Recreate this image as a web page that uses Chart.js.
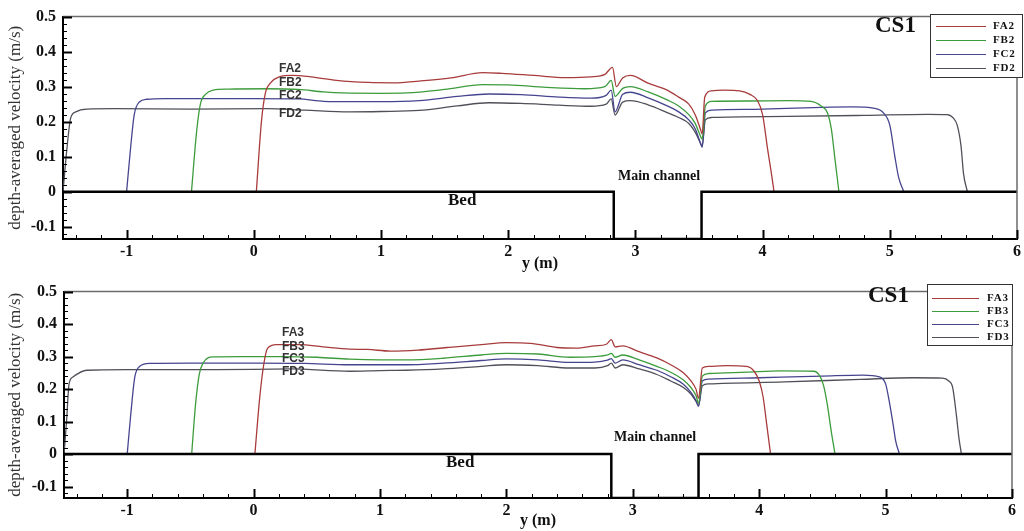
<!DOCTYPE html>
<html>
<head>
<meta charset="utf-8">
<title>CS1 depth-averaged velocity</title>
<script src="https://cdn.jsdelivr.net/npm/chart.js@4.4.1/dist/chart.umd.min.js"></script>
<style>
  html, body { margin: 0; padding: 0; background: #fff; }
  #wrap { position: relative; width: 1024px; height: 531px; overflow: hidden; }
  canvas { position: absolute; left: 0; }
  #chart-top { top: 0; }
  #chart-bottom { top: 275px; }
  .note { position: absolute; line-height: 1; white-space: nowrap; color: #111; }
  .serif { font-family: "Liberation Serif", "Times New Roman", serif; font-weight: bold; }
  .cs { font-size: 23px; }
  .main { font-size: 14px; }
  .bed { font-size: 17px; }
  .tag { font-family: "Liberation Sans", Arial, sans-serif; font-weight: bold; font-size: 12px; color: #333; }
  .legend { position: absolute; border: 1px solid #333; background: #fff; }
  .legend .row { position: absolute; left: 0; right: 0; height: 0; }
  .legend .swatch { position: absolute; height: 1px; top: 0; }
  .legend .lbl { position: absolute; top: -6px; font-family: "Liberation Serif", serif; font-weight: bold;
                 font-size: 11px; letter-spacing: 0.8px; line-height: 1; color: #111; }
</style>
</head>
<body>
<div id="wrap">
  <canvas id="chart-top" width="1024" height="275"></canvas>
  <canvas id="chart-bottom" width="1024" height="256"></canvas>

  <div class="note serif cs" style="left:875px; top:13px;">CS1</div>
  <div class="note serif main" style="left:618px; top:169px;">Main channel</div>
  <div class="note serif bed" style="left:448px; top:191px;">Bed</div>
  <div class="note tag" style="left:279px; top:62px;">FA2</div>
  <div class="note tag" style="left:279px; top:76px;">FB2</div>
  <div class="note tag" style="left:279px; top:89px;">FC2</div>
  <div class="note tag" style="left:279px; top:107px;">FD2</div>

  <div class="note serif cs" style="left:868px; top:283px;">CS1</div>
  <div class="note serif main" style="left:614px; top:430px;">Main channel</div>
  <div class="note serif bed" style="left:446px; top:453px;">Bed</div>
  <div class="note tag" style="left:282px; top:326px;">FA3</div>
  <div class="note tag" style="left:282px; top:340px;">FB3</div>
  <div class="note tag" style="left:282px; top:352px;">FC3</div>
  <div class="note tag" style="left:282px; top:365px;">FD3</div>

  <div id="legend-top" class="legend" style="left:930px; top:14px; width:91px; height:62px;"></div>
  <div id="legend-bottom" class="legend" style="left:927px; top:284px; width:84px; height:60px;"></div>
</div>

<script>
// ---- data ----
const seriesColors = ['#a83c3c', '#3c9c3c', '#45458f', '#50505a'];
const namesTop = ['FA2', 'FB2', 'FC2', 'FD2'];
const namesBottom = ['FA3', 'FB3', 'FC3', 'FD3'];

const xTicks = [-1, 0, 1, 2, 3, 4, 5, 6];
const yTicks = [-0.1, 0, 0.1, 0.2, 0.3, 0.4, 0.5];

// bed / main channel outline
const bedX = [-1.5, 2.83, 2.83, 3.52, 3.52, 6];
const bedY = [0, 0, -0.135, -0.135, 0, 0];

// top panel
const fa2X = [0.02, 0.06, 0.09, 0.13, 0.2, 0.3, 0.45, 0.65, 0.9, 1.1, 1.3, 1.55, 1.8, 1.95, 2.2, 2.45, 2.65, 2.76, 2.82, 2.85, 2.9, 2.96, 3.1, 3.25, 3.34, 3.42, 3.47, 3.51, 3.525, 3.545, 3.6, 3.7, 3.82, 3.9, 3.96, 4.0, 4.04, 4.07, 4.09];
const fa2Y = [0, 0.2, 0.28, 0.31, 0.328, 0.332, 0.328, 0.318, 0.312, 0.311, 0.316, 0.325, 0.34, 0.338, 0.332, 0.326, 0.328, 0.335, 0.355, 0.3, 0.325, 0.332, 0.31, 0.29, 0.27, 0.25, 0.22, 0.18, 0.165, 0.27, 0.288, 0.29, 0.288, 0.278, 0.26, 0.22, 0.12, 0.05, 0];
const fb2X = [-0.49, -0.45, -0.42, -0.38, -0.32, -0.2, 0.1, 0.35, 0.55, 0.7, 1.0, 1.2, 1.5, 1.8, 2.0, 2.3, 2.6, 2.76, 2.81, 2.84, 2.9, 2.96, 3.1, 3.25, 3.34, 3.42, 3.47, 3.51, 3.525, 3.55, 3.6, 3.9, 4.2, 4.38, 4.46, 4.51, 4.54, 4.57, 4.6];
const fb2Y = [0, 0.17, 0.25, 0.278, 0.29, 0.293, 0.294, 0.292, 0.285, 0.282, 0.281, 0.282, 0.292, 0.306, 0.305, 0.298, 0.294, 0.3, 0.318, 0.272, 0.295, 0.3, 0.285, 0.262, 0.245, 0.22, 0.195, 0.16, 0.15, 0.245, 0.258, 0.259, 0.26, 0.258, 0.245, 0.225, 0.18, 0.09, 0];
const fc2X = [-1.0, -0.97, -0.94, -0.9, -0.84, -0.7, 0, 0.35, 0.55, 0.75, 1.0, 1.3, 1.6, 1.85, 2.1, 2.4, 2.65, 2.77, 2.81, 2.84, 2.9, 2.96, 3.1, 3.25, 3.34, 3.42, 3.47, 3.51, 3.525, 3.55, 3.6, 4.0, 4.4, 4.7, 4.88, 4.95, 5.0, 5.04, 5.07, 5.11];
const fc2Y = [0, 0.12, 0.22, 0.256, 0.264, 0.266, 0.266, 0.265, 0.258, 0.257, 0.257, 0.26, 0.272, 0.279, 0.277, 0.27, 0.267, 0.275, 0.29, 0.228, 0.278, 0.284, 0.268, 0.245, 0.228, 0.205, 0.18, 0.14, 0.127, 0.225, 0.233, 0.236, 0.24, 0.242, 0.238, 0.225, 0.19, 0.1, 0.04, 0];
const fd2X = [-1.5, -1.47, -1.44, -1.4, -1.31, -1.1, -0.5, 0.1, 0.4, 0.75, 1.0, 1.3, 1.6, 1.85, 2.1, 2.4, 2.65, 2.77, 2.81, 2.84, 2.9, 2.96, 3.1, 3.25, 3.34, 3.42, 3.47, 3.51, 3.525, 3.55, 3.6, 4.2, 4.8, 5.3, 5.45, 5.5, 5.53, 5.56, 5.58, 5.61];
const fd2Y = [0, 0.12, 0.21, 0.228, 0.236, 0.237, 0.236, 0.237, 0.233, 0.228, 0.229, 0.232, 0.245, 0.254, 0.252, 0.247, 0.244, 0.25, 0.265, 0.219, 0.256, 0.26, 0.248, 0.226, 0.212, 0.195, 0.17, 0.14, 0.13, 0.205, 0.212, 0.215, 0.218, 0.221, 0.22, 0.21, 0.19, 0.13, 0.05, 0];

// bottom panel
const fa3X = [0.01, 0.05, 0.08, 0.11, 0.18, 0.36, 0.55, 0.76, 0.9, 1.08, 1.3, 1.53, 1.8, 2.0, 2.19, 2.4, 2.55, 2.7, 2.79, 2.83, 2.86, 2.92, 3.05, 3.19, 3.3, 3.4, 3.46, 3.5, 3.52, 3.55, 3.6, 3.75, 3.9, 3.96, 4.0, 4.03, 4.06, 4.09];
const fa3Y = [0, 0.18, 0.275, 0.325, 0.337, 0.337, 0.33, 0.323, 0.322, 0.317, 0.32, 0.328, 0.337, 0.343, 0.341, 0.328, 0.326, 0.333, 0.338, 0.352, 0.33, 0.333, 0.315, 0.296, 0.275, 0.25, 0.225, 0.2, 0.172, 0.265, 0.27, 0.272, 0.27, 0.255, 0.225, 0.178, 0.09, 0];
const fb3X = [-0.49, -0.46, -0.43, -0.4, -0.32, -0.1, 0.2, 0.5, 0.76, 1.0, 1.21, 1.5, 1.8, 2.0, 2.25, 2.5, 2.7, 2.8, 2.83, 2.86, 2.92, 3.05, 3.19, 3.3, 3.4, 3.46, 3.5, 3.52, 3.55, 3.6, 3.9, 4.17, 4.43, 4.48, 4.51, 4.54, 4.57, 4.6];
const fb3Y = [0, 0.15, 0.245, 0.28, 0.299, 0.3, 0.3, 0.298, 0.292, 0.29, 0.29, 0.295, 0.305, 0.31, 0.308, 0.298, 0.3, 0.305, 0.31, 0.298, 0.305, 0.29, 0.27, 0.252, 0.228, 0.205, 0.18, 0.157, 0.24, 0.248, 0.252, 0.256, 0.255, 0.24, 0.21, 0.15, 0.07, 0];
const fc3X = [-1.0, -0.97, -0.94, -0.9, -0.82, -0.5, 0, 0.4, 0.76, 1.0, 1.21, 1.5, 1.8, 2.0, 2.25, 2.5, 2.7, 2.8, 2.83, 2.86, 2.92, 3.05, 3.19, 3.3, 3.4, 3.46, 3.5, 3.52, 3.55, 3.6, 4.0, 4.5, 4.82, 4.95, 5.0, 5.03, 5.06, 5.08, 5.11];
const fc3Y = [0, 0.13, 0.237, 0.27, 0.279, 0.28, 0.28, 0.279, 0.275, 0.275, 0.275, 0.28, 0.288, 0.293, 0.29, 0.282, 0.283, 0.289, 0.294, 0.28, 0.29, 0.275, 0.258, 0.238, 0.215, 0.19, 0.165, 0.147, 0.225, 0.231, 0.235, 0.24, 0.243, 0.238, 0.216, 0.16, 0.09, 0.04, 0];
const fd3X = [-1.5, -1.48, -1.46, -1.43, -1.32, -1.0, -0.3, 0.3, 0.76, 1.0, 1.21, 1.5, 1.8, 2.0, 2.25, 2.5, 2.7, 2.8, 2.83, 2.86, 2.92, 3.05, 3.19, 3.3, 3.4, 3.46, 3.5, 3.52, 3.55, 3.6, 4.2, 4.8, 5.22, 5.45, 5.5, 5.53, 5.56, 5.58, 5.6];
const fd3Y = [0, 0.1, 0.216, 0.237, 0.258, 0.26, 0.26, 0.262, 0.255, 0.257, 0.258, 0.262, 0.27, 0.275, 0.272, 0.265, 0.265, 0.272, 0.28, 0.265, 0.275, 0.262, 0.245, 0.225, 0.205, 0.185, 0.162, 0.15, 0.21, 0.216, 0.222, 0.23, 0.235, 0.234, 0.225, 0.206, 0.12, 0.05, 0];

const X_MIN = -1.5, X_MAX = 6;
const Y_MIN = -0.135, Y_MAX = 0.5;

const SERIF = '"Liberation Serif", "Times New Roman", serif';

// inward tecplot-style ticks + grey top/right frame
const frameTicks = {
    id: 'frameTicks',
    afterDatasetsDraw(chart) {
        const { ctx, chartArea: a } = chart;
        const x = chart.scales.x, y = chart.scales.y;
        ctx.save();
        ctx.strokeStyle = '#6b6b6b';
        ctx.lineWidth = 1.5;
        ctx.beginPath();
        ctx.moveTo(a.left, a.top);
        ctx.lineTo(a.right, a.top);
        ctx.lineTo(a.right, a.bottom);
        ctx.stroke();

        ctx.strokeStyle = '#000';
        // x: major every 1, minor every 0.2
        for (let i = -7; i <= 30; i++) {
            const px = Math.round(x.getPixelForValue(i / 5)) + 0.5;
            const major = i % 5 === 0;
            ctx.lineWidth = major ? 2 : 1;
            ctx.beginPath();
            ctx.moveTo(px, a.bottom);
            ctx.lineTo(px, a.bottom - (major ? 9 : 4));
            ctx.stroke();
        }
        // y: major every 0.1, minor every 0.02
        for (let i = -6; i <= 25; i++) {
            const py = Math.round(y.getPixelForValue(i / 50)) + 0.5;
            const major = i % 5 === 0;
            ctx.lineWidth = major ? 2 : 1;
            ctx.beginPath();
            ctx.moveTo(a.left, py);
            ctx.lineTo(a.left + (major ? 9 : 4), py);
            ctx.stroke();
        }
        ctx.restore();
    }
};

function toPoints(xs, ys) {
    return xs.map((v, i) => ({ x: v, y: ys[i] }));
}

function buildChart(canvasId, xsList, ysList, names, layout) {
    const datasets = [{
        label: 'Bed',
        data: toPoints(bedX, bedY),
        borderColor: '#000',
        borderWidth: 2.5,
        pointRadius: 0,
        tension: 0
    }];
    names.forEach((name, i) => {
        datasets.push({
            label: name,
            data: toPoints(xsList[i], ysList[i]),
            borderColor: seriesColors[i],
            borderWidth: 1.3,
            pointRadius: 0,
            cubicInterpolationMode: 'monotone'
        });
    });

    return new Chart(document.getElementById(canvasId), {
        type: 'line',
        data: { datasets },
        options: {
            responsive: false,
            animation: false,
            layout: { padding: { top: layout.top, right: layout.right, left: 0, bottom: 0 } },
            plugins: { legend: { display: false }, tooltip: { enabled: false } },
            scales: {
                x: {
                    type: 'linear',
                    min: X_MIN,
                    max: X_MAX,
                    afterFit: s => { s.height = layout.xHeight; },
                    afterBuildTicks: s => { s.ticks = xTicks.map(v => ({ value: v })); },
                    grid: { drawOnChartArea: false, drawTicks: false },
                    border: { color: '#000', width: 2 },
                    ticks: {
                        padding: 3,
                        color: '#111',
                        font: { family: SERIF, size: 16, weight: 'bold' },
                        callback: v => String(v)
                    },
                    title: {
                        display: true,
                        text: 'y (m)',
                        color: '#111',
                        padding: { top: 0, bottom: layout.titlePad },
                        font: { family: SERIF, size: 16, weight: 'bold' }
                    }
                },
                y: {
                    type: 'linear',
                    min: Y_MIN,
                    max: Y_MAX,
                    afterFit: s => { s.width = layout.yWidth; },
                    afterBuildTicks: s => { s.ticks = yTicks.map(v => ({ value: v })); },
                    grid: { drawOnChartArea: false, drawTicks: false },
                    border: { color: '#000', width: 2 },
                    ticks: {
                        padding: 7,
                        color: '#111',
                        font: { family: SERIF, size: 16, weight: 'bold' },
                        callback: v => String(Math.round(v * 10) / 10)
                    },
                    title: {
                        display: true,
                        text: 'depth-averaged velocity (m/s)',
                        color: '#333',
                        padding: { top: 5, bottom: 0 },
                        font: { family: SERIF, size: 17 }
                    }
                }
            }
        },
        plugins: [frameTicks]
    });
}

function buildLegend(boxId, names, rowTops, lineLeft, lineWidth, labelLeft) {
    const box = document.getElementById(boxId);
    names.forEach((name, i) => {
        const row = document.createElement('div');
        row.className = 'row';
        row.style.top = rowTops[i] + 'px';
        const sw = document.createElement('div');
        sw.className = 'swatch';
        sw.style.left = lineLeft + 'px';
        sw.style.width = lineWidth + 'px';
        sw.style.background = seriesColors[i];
        const lbl = document.createElement('div');
        lbl.className = 'lbl';
        lbl.style.left = labelLeft + 'px';
        lbl.textContent = name;
        row.appendChild(sw);
        row.appendChild(lbl);
        box.appendChild(row);
    });
}

buildChart('chart-top', [fa2X, fb2X, fc2X, fd2X], [fa2Y, fb2Y, fc2Y, fd2Y], namesTop,
    { top: 13, right: 4, xHeight: 36, yWidth: 63, titlePad: 2 });
buildChart('chart-bottom', [fa3X, fb3X, fc3X, fd3X], [fa3Y, fb3Y, fc3Y, fd3Y], namesBottom,
    { top: 9, right: 12, xHeight: 33, yWidth: 64, titlePad: 1 });

buildLegend('legend-top', namesTop, [11, 25, 39, 53], 5, 50, 62);
buildLegend('legend-bottom', namesBottom, [13, 26, 39, 52], 4, 47, 59);
</script>
</body>
</html>
